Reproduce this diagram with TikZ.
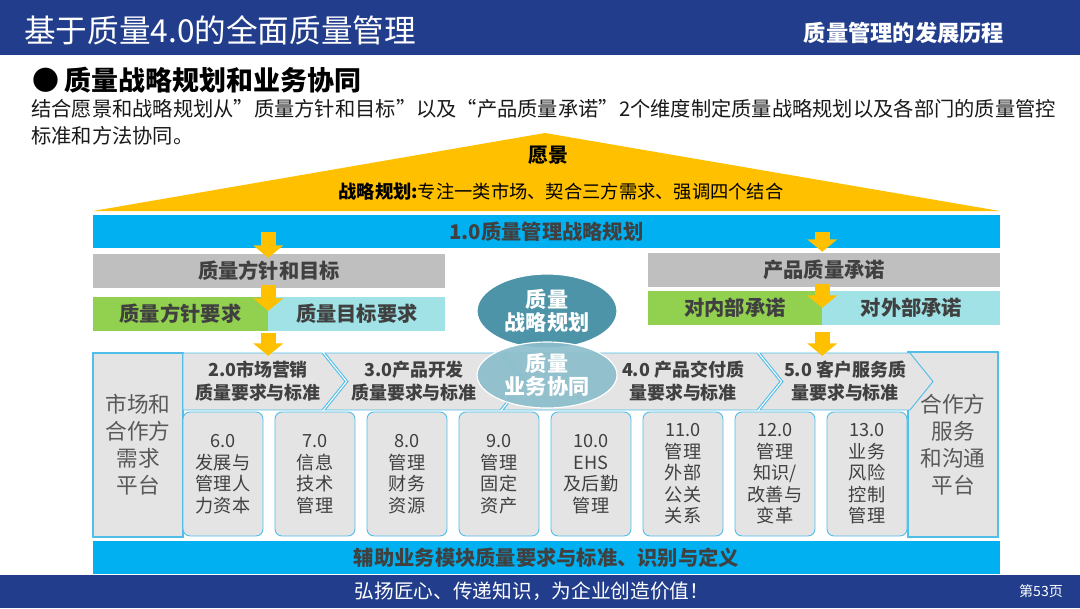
\documentclass[tikz,border=0pt]{standalone}
\usepackage{fontspec}
\setmainfont{Noto Sans CJK SC}
\usetikzlibrary{shapes.geometric, arrows.meta, positioning, fit, calc}

\definecolor{navy}{RGB}{33,61,140}
\definecolor{roofyellow}{RGB}{255,192,0}
\definecolor{barblue}{RGB}{0,176,240}
\definecolor{boxgray}{RGB}{191,191,191}
\definecolor{leafgreen}{RGB}{146,208,80}
\definecolor{paleaqua}{RGB}{160,226,230}
\definecolor{darktext}{RGB}{64,64,64}
\definecolor{edgeblue}{RGB}{80,190,232}
\definecolor{cellgray}{RGB}{228,228,228}
\definecolor{tealdark}{RGB}{78,148,168}
\definecolor{teallight}{RGB}{140,190,204}

\begin{document}
\begin{tikzpicture}[
    x=0.03cm, y=-0.03cm,
    size/.style 2 args={minimum width=#1*0.03cm, minimum height=#2*0.03cm},
    band/.style={rectangle, inner sep=0pt, text=darktext, font=\fontsize{17.3}{20}\selectfont\bfseries},
    platform/.style={rectangle, inner sep=0pt, draw=edgeblue, line width=1.2pt, fill=cellgray, align=center, text=black!65, font=\fontsize{18.5}{23}\selectfont},
    cell/.style={rectangle, inner sep=0pt, rounded corners=6pt, draw=edgeblue, line width=0.8pt, fill=cellgray, align=center, text=darktext, font=\fontsize{15.5}{18.4}\selectfont},
    chev/.style={draw=edgeblue, line width=0.8pt, fill=cellgray},
    chevtext/.style={inner sep=0pt, minimum height=1.71cm, align=center, text=darktext, font=\fontsize{15.3}{19.6}\selectfont\bfseries},
    hub/.style={ellipse, inner sep=0pt, draw=white, line width=1pt, minimum width=4.2cm, align=center, text=white, font=\fontsize{18}{19.6}\selectfont\bfseries},
    yarrow/.style={draw=roofyellow, line width=12.8pt, -{Triangle[width=25pt,length=10.5pt]}}
]
\useasboundingbox (0,0) rectangle (1080,608);
% ---------------- HEADER ----------------
\node[fill=navy, inner sep=0pt, fit={(0,0)(1080,55)}] (head) {};
\node[anchor=west, text=white, font=\fontsize{27}{30}\selectfont] (title) at (20,30) {基于质量4.0的全面质量管理};
\node[text=white, font=\fontsize{19}{22}\selectfont\bfseries] (chapter) at (904,33) {质量管理的发展历程};
\node[anchor=west, font=\fontsize{23}{26}\selectfont\bfseries] (topic) at (28,80) {●\hspace{5pt}质量战略规划和业务协同};
\node[anchor=north west, inner sep=0pt, align=left, text=black!90, font=\fontsize{17.3}{23}\selectfont] (intro) at (31,99)
  {结合愿景和战略规划从”质量方针和目标”以及“产品质量承诺”2个维度制定质量战略规划以及各部门的质量管控\\标准和方法协同。};
% ---------------- ROOF ----------------
\fill[roofyellow] (93,211) -- (545,133) -- (1000,211) -- cycle;
\node[font=\fontsize{17}{20}\selectfont\bfseries] (vision) at (548,155) {愿景};
\node[font=\fontsize{15.6}{18}\selectfont] (strategy) at (561,192) {{\bfseries 战略规划:}专注一类市场、契合三方需求、强调四个结合};
% ---------------- PLANNING ----------------
\node[band, fill=barblue, size={907}{33}] (plan) at (546.5,231.5) {1.0质量管理战略规划};
\node[band, fill=boxgray, size={352}{34}] (obj) at (269,271) {质量方针和目标};
\node[band, fill=leafgreen, size={175}{34}] (pol) at (180.5,314) {质量方针要求};
\node[band, fill=paleaqua, size={177}{34}, right=0pt of pol] (goal) {质量目标要求};
\node[band, fill=boxgray, size={352}{34}] (pledge) at (824,270) {产品质量承诺};
\node[band, fill=leafgreen, size={174}{34}] (inn) at (735,308) {对内部承诺};
\node[band, fill=paleaqua, size={178}{34}, right=0pt of inn] (out) {对外部承诺};
% ---------------- BUSINESS ----------------
\node[platform, size={90}{184}] (demand) at (138,445) {市场和\\合作方\\需求\\平台};
\node[platform, size={90}{185}] (service) at (953,444.5) {合作方\\服务\\和沟通\\平台};
\foreach \n/\a/\b/\d/\c/\t in {2/183/322/0/258/{2.0市场营销\\质量要求与标准},
    3/325/500/23/414/{3.0产品开发\\质量要求与标准},
    4/503/757/23/683/{4.0 产品交付质\\量要求与标准},
    5/760/910/23/845/{5.0 客户服务质\\量要求与标准}}{
  \draw[chev] (\a,353) -- (\b,353) -- (\b+23,381.5) -- (\b,410) -- (\a,410) -- (\a+\d,381.5) -- cycle;
  \node[chevtext] (c\n) at (\c,381.5) {\t};
}
\foreach \i/\t [evaluate=\i as \k using int(\i+6)] in {0/{6.0\\发展与\\管理人\\力资本}, 1/{7.0\\信息\\技术\\管理},
    2/{8.0\\管理\\财务\\资源}, 3/{9.0\\管理\\固定\\资产}, 4/{10.0\\EHS\\及后勤\\管理},
    5/{11.0\\管理\\外部\\公关\\关系}, 6/{12.0\\管理\\知识/\\改善与\\变革}, 7/{13.0\\业务\\风险\\控制\\管理}}{
  \node[cell, size={80}{124}] (m\k) at (223+92*\i,474) {\t};
}
\node[hub, fill=tealdark, minimum height=2.22cm] (core) at (547,311) {质量\\战略规划};
\node[hub, fill=teallight, fill opacity=0.92, text opacity=1, minimum height=1.98cm] (sync) at (547,375) {质量\\业务协同};
\node[band, fill=barblue, size={907}{33}] (aux) at (546.5,557.5) {辅助业务模块质量要求与标准、识别与定义};
% yellow arrows
\draw[yarrow] (plan.center -| pol.east) -- ($(obj.north -| pol.east)+(0,4)$);
\draw[yarrow] ($(obj.south -| pol.east)+(0,-3)$) -- ($(pol.north east)+(0,14)$);
\draw[yarrow] ($(pol.south east)+(0,2)$) -- ($(c2.north -| pol.east)+(0,3)$);
\draw[yarrow] (plan.center -| inn.east) -- ($(pledge.north -| inn.east)+(0,-1)$);
\draw[yarrow] ($(pledge.south -| inn.east)+(0,-3)$) -- ($(inn.north east)+(0,17)$);
\draw[yarrow] ($(inn.south east)+(0,7)$) -- ($(c5.north -| inn.east)+(0,3)$);
% ---------------- FOOTER ----------------
\node[fill=navy, inner sep=0pt, fit={(0,575)(1080,608)}] (foot) {};
\node[text=white, font=\fontsize{16.8}{19}\selectfont] (motto) at (532,591) {弘扬匠心、传递知识，为企业创造价值！};
\node[text=white, font=\fontsize{12}{14}\selectfont] (page) at (1041,591) {第53页};
\end{tikzpicture}
\end{document}
